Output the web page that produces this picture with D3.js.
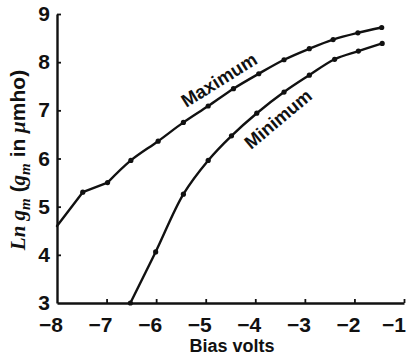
<!DOCTYPE html>
<html>
<head>
<meta charset="utf-8">
<script src="https://cdn.jsdelivr.net/npm/d3@7"></script>
<style>
  html, body { margin: 0; padding: 0; background: #fff; }
  svg { display: block; }
  .tick-label { font-family: "Liberation Sans", Arial, sans-serif; font-weight: bold; font-size: 21px; fill: #111; }
</style>
</head>
<body>
<svg id="chart" width="407" height="360"></svg>
<script>
// Transconductance vs. grid bias, maximum and minimum curves
const maxBias = [-8, -7.48, -6.98, -6.51, -5.96, -5.45, -4.95, -4.44, -3.93, -3.42, -2.91, -2.43, -1.93, -1.45];
const maxLnGm = [4.60, 5.30, 5.50, 5.96, 6.36, 6.75, 7.09, 7.45, 7.76, 8.05, 8.28, 8.47, 8.61, 8.72];
const minBias = [-6.52, -6.01, -5.45, -4.95, -4.48, -3.97, -3.42, -2.91, -2.40, -1.92, -1.44];
const minLnGm = [3.00, 4.06, 5.26, 5.96, 6.47, 6.94, 7.38, 7.73, 8.06, 8.23, 8.39];
const xTicks = [-8, -7, -6, -5, -4, -3, -2, -1];
const yTicks = [3, 4, 5, 6, 7, 8, 9];

const svg = d3.select("#chart");
const x = d3.scaleLinear().domain([-8, -1]).range([57, 404]);
const y = d3.scaleLinear().domain([3, 9]).range([303, 14]);
const ink = "#111";

const maxPts = maxBias.map((b, i) => [b, maxLnGm[i]]);
const minPts = minBias.map((b, i) => [b, minLnGm[i]]);

// Axes: ticks point inward, labels drawn separately
const xAxis = svg.append("g").attr("transform", `translate(0,${y(3)})`)
  .call(d3.axisBottom(x).tickValues(xTicks).tickSize(-4).tickSizeOuter(0).tickFormat(""));
const yAxis = svg.append("g").attr("transform", `translate(${x(-8)},0)`)
  .call(d3.axisLeft(y).tickValues(yTicks).tickSize(-4).tickSizeOuter(0).tickFormat(""));
[xAxis, yAxis].forEach(g => {
  g.select(".domain").attr("stroke", ink).attr("stroke-width", 2.4);
  g.selectAll(".tick line").attr("stroke", ink).attr("stroke-width", 1.8);
});
xAxis.selectAll(".tick").filter(d => d === -8).remove();
yAxis.selectAll(".tick").filter(d => d === 3).remove();

// x tick labels: digit centred on the tick, minus sign hanging to the left
svg.append("g").selectAll("text").data(xTicks).join("text")
  .attr("class", "tick-label")
  .attr("x", d => Math.min(x(d) + 6, 406))
  .attr("y", 332)
  .attr("text-anchor", "end")
  .text(d => "\u2212" + Math.abs(d));

svg.append("g").selectAll("text").data(yTicks).join("text")
  .attr("class", "tick-label")
  .attr("x", 50)
  .attr("y", d => y(d) + 7)
  .attr("text-anchor", "end")
  .text(d => d);

// Axis titles
svg.append("text")
  .attr("x", 232).attr("y", 352)
  .attr("text-anchor", "middle")
  .style("font-family", "Liberation Sans, Arial, sans-serif")
  .style("font-weight", "bold").style("font-size", "18px").attr("fill", ink)
  .text("Bias volts");

const yTitle = svg.append("text")
  .attr("transform", "translate(25,160) rotate(-90)")
  .attr("text-anchor", "middle")
  .style("font-size", "21px").attr("fill", ink);
const serifI = "Liberation Serif, Times New Roman, serif";
const sansB = "Liberation Sans, Arial, sans-serif";
const parts = [
  { t: "Ln ", f: serifI, st: "italic" },
  { t: "g", f: serifI, st: "italic" },
  { t: "m", f: serifI, st: "italic", sub: true },
  { t: " (", f: sansB, st: "normal" },
  { t: "g", f: serifI, st: "italic" },
  { t: "m", f: serifI, st: "italic", sub: true },
  { t: " in ", f: sansB, st: "normal" },
  { t: "\u03bc", f: serifI, st: "italic" },
  { t: "mho)", f: sansB, st: "normal" }
];
let shifted = false;
parts.forEach(p => {
  const ts = yTitle.append("tspan")
    .style("font-family", p.f).style("font-style", p.st).style("font-weight", "bold")
    .text(p.t);
  if (p.sub) { ts.attr("dy", 4.5).style("font-size", "15px"); shifted = true; }
  else if (shifted) { ts.attr("dy", -4.5); shifted = false; }
});

// Curves: straight segments at the low-bias kink, smooth elsewhere
const lineLinear = d3.line().x(d => x(d[0])).y(d => y(d[1])).curve(d3.curveLinear);
const lineSmooth = d3.line().x(d => x(d[0])).y(d => y(d[1])).curve(d3.curveCatmullRom.alpha(0.5));

const stroke = sel => sel.attr("fill", "none").attr("stroke", ink)
  .attr("stroke-width", 2.4).attr("stroke-linejoin", "round").attr("stroke-linecap", "round");
svg.append("path").attr("d", lineLinear(maxPts.slice(0, 3))).call(stroke);
svg.append("path").attr("d", lineSmooth(maxPts.slice(2))).call(stroke);
svg.append("path").attr("d", lineSmooth(minPts)).call(stroke);

// Measured points
svg.append("g").selectAll("circle").data(maxPts.filter(d => d[0] > -8).concat(minPts)).join("circle")
  .attr("cx", d => x(d[0])).attr("cy", d => y(d[1])).attr("r", 2.6).attr("fill", ink);

// Curve labels
const curveLabel = (txt, cx, cy, ang) => svg.append("text")
  .attr("transform", `translate(${cx},${cy}) rotate(${ang})`)
  .attr("text-anchor", "middle").attr("dominant-baseline", "central")
  .style("font-family", sansB).style("font-weight", "bold").style("font-size", "18.5px")
  .attr("fill", ink).text(txt);
curveLabel("Maximum", 219, 80, -32);
curveLabel("Minimum", 278, 119, -40);
</script>
</body>
</html>
